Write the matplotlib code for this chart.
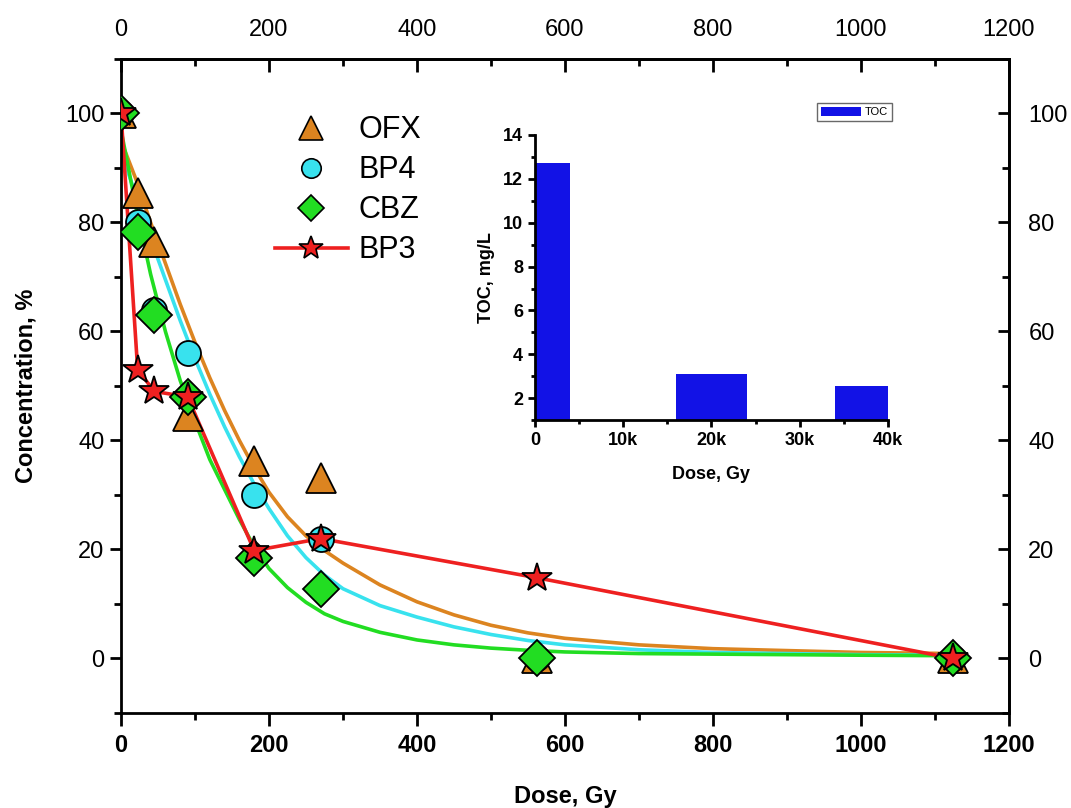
import matplotlib
matplotlib.use("Agg")
import matplotlib.pyplot as plt
from matplotlib.lines import Line2D

plt.rcParams['font.family'] = ['Liberation Sans', 'DejaVu Sans']

# measured points
dose = [0, 22.5, 45, 90, 180, 270, 562.5, 1125]
ofx = [100, 85.5, 76.5, 44.5, 36.3, 33.2, 0, 0]
bp4 = [100, 80, 64, 56, 30, 22, 0, 0]
cbz = [100, 78.3, 63, 48, 18.5, 12.8, 0, 0]
bp3 = [100, 53, 49, 48, 19.8, 22, 14.8, 0]

# fitted curves
fit_dose = [0, 20, 40, 60, 80, 100, 120, 140, 160, 180, 200, 225, 250, 275,
            300, 350, 400, 450, 500, 550, 600, 700, 800, 1000, 1130]
ofx_fit = [95, 88, 80, 72.5, 65, 58, 51.5, 45.5, 40, 35, 30.5, 26, 22.5, 19.8,
           17.5, 13.5, 10.4, 8, 6.1, 4.7, 3.7, 2.5, 1.8, 1.1, 0.9]
bp4_fit = [93, 85, 77, 69.5, 62, 55, 48.5, 42.5, 37, 32, 27.5, 22.5, 18.5, 15.3,
           12.8, 9.7, 7.6, 5.8, 4.4, 3.3, 2.5, 1.6, 1.1, 0.7, 0.6]
cbz_fit = [97, 83, 70.5, 60, 51, 43.5, 36.5, 31, 25.5, 20.5, 16.5, 13, 10.3, 8.2,
           6.8, 4.8, 3.4, 2.5, 1.9, 1.5, 1.2, 0.9, 0.8, 0.6, 0.5]

# inset TOC bars
toc_dose = [0, 20000, 38000]
toc = [12.7, 3.1, 2.55]

ORANGE = '#DC8420'
CYAN = '#38E2EE'
GREEN = '#22DD22'
RED = '#EE2020'
BLUE = '#1212E6'

fig = plt.figure(figsize=(10.71, 8.08), dpi=100)
ax = fig.add_axes([0.113, 0.1176, 0.829, 0.8094])

ax.plot(fit_dose, ofx_fit, color=ORANGE, lw=2.6, zorder=2)
ax.plot(fit_dose, bp4_fit, color=CYAN, lw=2.6, zorder=2)
ax.plot(fit_dose, cbz_fit, color=GREEN, lw=2.6, zorder=2)
ax.plot(dose, bp3, color=RED, lw=2.6, zorder=2)

ax.plot(dose, ofx, ls='none', marker='^', ms=21, mfc=ORANGE, mec='black', mew=1.3, zorder=3)
ax.plot(dose, bp4, ls='none', marker='o', ms=18, mfc=CYAN, mec='black', mew=1.3, zorder=3)
ax.plot(dose, cbz, ls='none', marker='D', ms=18, mfc=GREEN, mec='black', mew=1.3, zorder=3)
ax.plot(dose, bp3, ls='none', marker='*', ms=22, mfc=RED, mec='black', mew=1.3, zorder=4)

ax.set_xlim(0, 1200)
ax.set_ylim(-10, 110)
ax.set_xticks(range(0, 1201, 200))
ax.set_xticks(range(100, 1200, 200), minor=True)
ax.set_yticks(range(0, 101, 20))
ax.set_yticks(range(-10, 111, 20), minor=True)
for s in ax.spines.values():
    s.set_linewidth(2)
ax.tick_params(axis='x', which='major', direction='out', length=9, width=2,
               labelsize=17, pad=6)
ax.tick_params(axis='x', which='minor', direction='out', length=5, width=2)
ax.tick_params(axis='y', which='major', direction='out', length=8, width=2,
               labelsize=17, pad=4)
ax.tick_params(axis='y', which='minor', direction='out', length=5, width=2)
for lab in ax.get_xticklabels():
    lab.set_fontweight('bold')
ax.set_xlabel('Dose, Gy', fontsize=17, fontweight='bold', labelpad=20)
ax.set_ylabel('Concentration, %', fontsize=17, fontweight='bold', labelpad=20)

top = ax.secondary_xaxis('top')
top.set_xticks(range(0, 1201, 200))
top.set_xticks(range(100, 1200, 200), minor=True)
top.tick_params(which='major', direction='in', length=9, width=2, labelsize=17, pad=13)
top.tick_params(which='minor', direction='in', length=5, width=2)
top.spines['top'].set_linewidth(2)

right = ax.secondary_yaxis('right')
right.set_yticks(range(0, 101, 20))
right.set_yticks(range(-10, 111, 20), minor=True)
right.tick_params(which='major', direction='in', length=8, width=2, labelsize=17, pad=14)
right.tick_params(which='minor', direction='in', length=5, width=2)
right.spines['right'].set_linewidth(2)

handles = [
    Line2D([], [], ls='none', marker='^', ms=17, mfc=ORANGE, mec='black', mew=1.2),
    Line2D([], [], ls='none', marker='o', ms=14, mfc=CYAN, mec='black', mew=1.2),
    Line2D([], [], ls='none', marker='D', ms=13, mfc=GREEN, mec='black', mew=1.2),
    Line2D([], [], color=RED, lw=2.6, marker='*', ms=18, mfc=RED, mec='black', mew=1.2),
]
ax.legend(handles, ['OFX', 'BP4', 'CBZ', 'BP3'], loc='upper left',
          bbox_to_anchor=(0.173, 0.914), frameon=False, fontsize=22,
          handlelength=2.4, handletextpad=0.35, labelspacing=0.33,
          borderpad=0, borderaxespad=0)

# inset
ins = fig.add_axes([0.4995, 0.480, 0.3296, 0.353])
ins.bar(toc_dose, toc, width=8000, bottom=0, color=BLUE, label='TOC', zorder=2)
ins.set_xlim(0, 40000)
ins.set_ylim(1, 14)
ins.set_xticks(range(0, 40001, 10000))
ins.set_xticklabels(['0', '10k', '20k', '30k', '40k'])
ins.set_xticks(range(5000, 40000, 10000), minor=True)
ins.set_yticks(range(2, 15, 2))
ins.set_yticks(range(1, 15, 2), minor=True)
ins.spines['top'].set_visible(False)
ins.spines['right'].set_visible(False)
ins.spines['left'].set_linewidth(2)
ins.spines['bottom'].set_linewidth(2)
ins.patch.set_alpha(0)
ins.tick_params(which='major', direction='out', length=5, width=2, labelsize=13)
ins.tick_params(which='minor', direction='out', length=3, width=2)
for lab in ins.get_xticklabels() + ins.get_yticklabels():
    lab.set_fontweight('bold')
ins.set_xlabel('Dose, Gy', fontsize=13, fontweight='bold', labelpad=12)
ins.set_ylabel('TOC, mg/L', fontsize=13, fontweight='bold', labelpad=6)
leg = ins.legend(loc='center', bbox_to_anchor=(0.905, 1.08), fontsize=8,
                 fancybox=False, edgecolor='#444444', handlelength=3.6,
                 handleheight=0.8, borderpad=0.35, handletextpad=0.3)
leg.get_frame().set_linewidth(1.0)

fig.savefig('out.png', dpi=100)
